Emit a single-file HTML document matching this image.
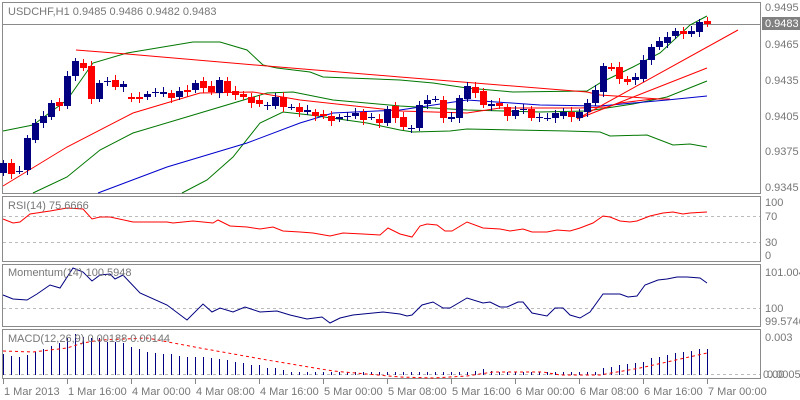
<!DOCTYPE html>
<html><head><meta charset="utf-8"><style>
body{margin:0;background:#fff;width:800px;height:400px;overflow:hidden}
svg{display:block}
text{font-family:"Liberation Sans",sans-serif;font-size:11px;fill:#777}
</style></head><body>
<svg id="s" width="800" height="400" viewBox="0 0 800 400" xmlns="http://www.w3.org/2000/svg">
<rect width="800" height="400" fill="#fff"/>
<g fill="none" stroke="#8a8a8a" stroke-width="1">
<rect x="2.5" y="2.5" width="758" height="191"/>
<line x1="2" y1="24.5" x2="761" y2="24.5"/>
<rect x="2.5" y="196.5" width="758" height="65"/>
<rect x="2.5" y="264.5" width="758" height="62"/>
<rect x="2.5" y="329.5" width="758" height="49"/>
</g>
<g stroke="#bbb" stroke-dasharray="3,3" stroke-width="1">
<line x1="3" y1="216.5" x2="760" y2="216.5"/>
<line x1="3" y1="242.5" x2="760" y2="242.5"/>
<line x1="3" y1="308.5" x2="760" y2="308.5"/>
<line x1="3" y1="374.5" x2="760" y2="374.5"/>
</g>
<text x="8" y="15">USDCHF,H1  0.9485 0.9486 0.9482 0.9483</text>
<g id="lines" fill="none" stroke-width="1"></g>
<g id="candles"></g>
<text x="8" y="209">RSI(14) 75.6666</text>
<text x="8" y="276">Momentum(14) 100.5948</text>
<text x="8" y="342">MACD(12,26,9) 0.00188 0.00144</text>
<g>
<text x="765" y="11">0.9495</text>
<text x="765" y="48">0.9465</text>
<text x="765" y="84">0.9435</text>
<text x="765" y="120">0.9405</text>
<text x="765" y="155">0.9375</text>
<text x="765" y="191">0.9345</text>
<rect x="762" y="17" width="38" height="13" fill="#808080"/>
<text x="765" y="27" style="fill:#fff">0.9483</text>
<text x="765" y="206">100</text>
<text x="765" y="220">70</text>
<text x="765" y="246">30</text>
<text x="765" y="259">0</text>
<text x="765" y="276">101.0049</text>
<text x="765" y="312">100</text>
<text x="765" y="325">99.5746</text>
<text x="765" y="341">0.003</text>
<text x="763" y="378">0.00</text>
<text x="767" y="378">0.00054</text>
</g>
<g id="time"></g>
</svg>
<script>
var NS="http://www.w3.org/2000/svg";
function el(p,t,a){var e=document.createElementNS(NS,t);for(var k in a)e.setAttribute(k,a[k]);p.appendChild(e);return e;}
var L=document.getElementById('lines');
function pl(pts,c,extra){var a={points:pts.map(function(p){return p[0]+','+p[1]}).join(' '),stroke:c,fill:'none','stroke-width':1};for(var k in extra)a[k]=extra[k];el(L,'polyline',a);}
pl([[3,131],[33,125],[67,100],[93,63],[127,53],[193,42],[220,42],[247,50],[263,65],[277,68],[310,72],[323,77],[400,80],[433,83],[467,88],[513,92],[587,91],[600,83],[633,67],[660,53],[690,25],[707,16]],'#007700');
pl([[33,193],[67,177],[100,150],[133,133],[200,113],[267,93],[293,92],[333,100],[400,106],[467,110],[540,112],[587,111],[633,104],[667,97],[707,81]],'#007700');
pl([[182,193],[207,180],[233,157],[260,123],[283,112],[310,115],[367,123],[400,130],[413,132],[450,131],[467,129],[567,131],[600,132],[610,136],[647,135],[673,145],[690,144],[707,147]],'#007700');
pl([[98,193],[167,167],[247,143],[300,123],[333,113],[400,110],[467,100],[540,105],[600,106],[667,100],[707,96]],'#0000cc');
pl([[3,186],[67,147],[133,113],[200,93],[253,92],[300,100],[400,111],[467,113],[500,108],[580,108],[607,107],[620,103],[653,99],[670,99]],'#ff0000');
pl([[76,50],[127,54],[267,66],[400,77],[587,92],[600,95],[660,99]],'#ff0000');
pl([[577,119],[738,30]],'#ff0000');
pl([[580,118],[707,68]],'#ff0000');
pl([[3,219],[13,223],[20,222],[30,214],[50,211],[67,208],[83,209],[92,219],[100,217],[110,217],[133,222],[167,222],[173,223],[193,221],[213,223],[218,220],[230,226],[247,227],[260,229],[273,227],[283,231],[300,232],[313,233],[330,236],[343,233],[363,234],[380,235],[388,228],[400,234],[412,237],[420,226],[427,224],[437,225],[445,231],[452,231],[467,222],[483,228],[500,229],[510,231],[523,229],[532,232],[547,232],[557,230],[570,231],[580,228],[593,223],[603,216],[610,217],[620,221],[630,222],[637,221],[650,216],[663,213],[673,212],[683,214],[690,213],[707,212]],'#ff0000');
pl([[3,295],[13,299],[27,300],[37,294],[50,285],[60,288],[73,268],[83,272],[92,281],[100,275],[110,274],[115,279],[123,275],[140,293],[167,305],[187,320],[203,304],[212,312],[220,308],[233,312],[245,307],[260,312],[277,311],[290,315],[307,319],[322,317],[330,323],[340,318],[353,315],[383,312],[400,314],[407,316],[412,315],[422,305],[433,302],[443,308],[450,308],[467,298],[483,303],[490,302],[500,307],[507,307],[518,302],[523,302],[532,313],[547,316],[555,308],[563,308],[570,315],[580,318],[590,312],[603,294],[620,294],[628,297],[637,296],[645,285],[658,280],[667,279],[677,277],[687,277],[700,278],[707,283]],'#000080');
var H={3:354,11:356,19:357,27:355,35:352,43:349,51:346,59:343,67:338,75:334,83:337,91:338,99:338,107:342,115:342,123:343,131:347,139:349,147:352,155:353,163:354,171:354,179:356,187:357,195:357,203:357,211:358,219:359,227:360,235:362,243:363,251:365,259:365,267:368,275:368,283:370,291:372,299:372,
475:371,483:369,491:371,603:368,611:367,619:365,627:364,635:363,643:362,651:358,659:357,667:355,675:353,683:352,691:351,699:349,707:349};
for(var x=3;x<=707;x+=8){var t=H[x]||372;el(L,'line',{x1:x+.5,x2:x+.5,y1:t,y2:375,stroke:'#000080'});}
pl([[3,351],[33,352],[67,348],[83,343],[100,340],[147,338],[200,348],[267,360],[333,371],[400,377],[433,378],[467,376],[493,372],[543,372],[560,375],[600,375],[640,368],[667,362],[707,353]],'#ff0000',{'stroke-dasharray':'3,3'});
var C=[[163,173,1],[163,174,0],[171,171,2],[138,170,1],[123,140,1],[116,123,1],[103,117,1],[102,106,0],[76,106,1],[61,76,1],[63,68,0],[66,99,0],[83,99,1],[81,81,2],[80,87,0],[84,87,1],[97,99,0],[97,98,0],[94,97,1],[92,92,2],[92,94,1],[93,98,0],[91,97,1],[90,92,0],[83,90,1],[81,88,0],[86,92,0],[80,93,1],[81,93,0],[91,95,0],[94,97,0],[97,103,0],[100,104,0],[105,105,2],[97,106,1],[97,107,0],[107,107,2],[107,112,0],[110,112,1],[112,116,0],[114,116,0],[116,121,0],[117,119,1],[116,116,2],[113,116,1],[112,120,0],[117,117,2],[119,123,0],[109,123,1],[106,118,0],
[117,127,0],[128,128,2],[105,128,1],[100,104,1],[99,99,2],[100,118,0],[117,119,1],[98,118,1],[86,99,1],[87,93,0],[91,105,0],[104,106,1],[103,106,0],[107,116,0],[110,116,1],[109,109,2],[109,118,0],[117,117,2],[118,118,2],[113,118,1],[112,116,1],[112,117,0],[112,118,1],[103,112,1],[90,103,1],[66,92,1],[67,68,0],[67,79,0],[79,82,0],[77,80,1],[60,79,1],[47,60,1],[41,47,1],[37,43,1],[31,36,1],[31,34,0],[31,34,1],[22,32,1],[21,24,0]];
var G=document.getElementById('candles');
C.forEach(function(c,i){var x=3+i*8;var col=c[2]==0?'#ff0000':'#000080';
var hi=c[0]-3-(i%3),lo=c[1]+3+(i%2)*2;
el(G,'line',{x1:x+.5,x2:x+.5,y1:hi,y2:lo,stroke:col});
if(c[2]==2)el(G,'line',{x1:x-3,x2:x+4,y1:c[0]+.5,y2:c[0]+.5,stroke:col});
else el(G,'rect',{x:x-3,y:c[0],width:7,height:Math.max(2,c[1]-c[0]),fill:col});});
var T=document.getElementById('time');
var labs=["1 Mar 2013","1 Mar 16:00","4 Mar 00:00","4 Mar 08:00","4 Mar 16:00","5 Mar 00:00","5 Mar 08:00","5 Mar 16:00","6 Mar 00:00","6 Mar 08:00","6 Mar 16:00","7 Mar 00:00"];
labs.forEach(function(s,i){var x=3+i*64;el(T,'line',{x1:x+.5,x2:x+.5,y1:379,y2:384,stroke:'#888'});var t=el(T,'text',{x:x+1,y:395});t.textContent=s;});
</script>
</body></html>
